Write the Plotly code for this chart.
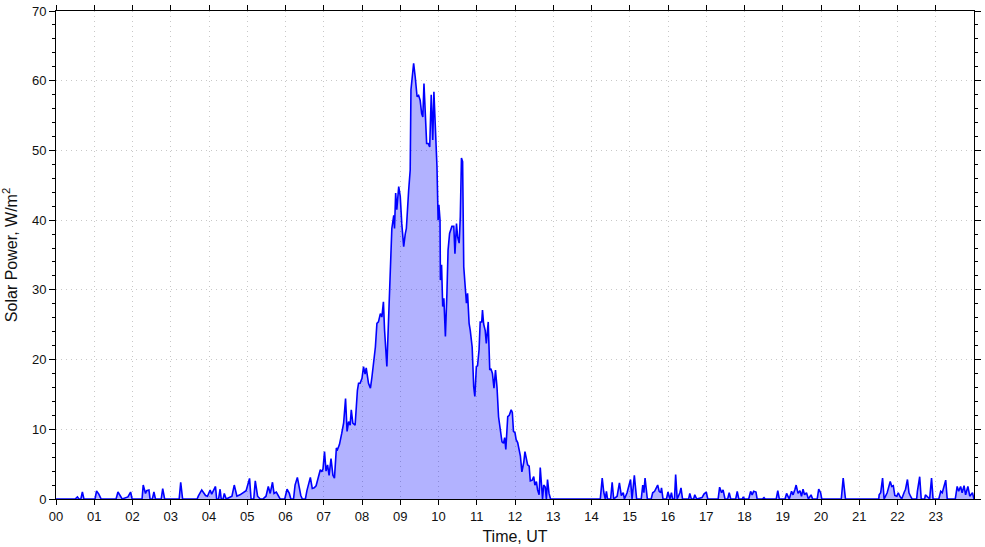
import plotly.graph_objects as go

# Time in hours (UT) and solar power (W/m^2)
hours = [
    0.00, 0.50, 0.56, 0.60, 0.65, 0.69, 0.73, 1.02, 1.06, 1.12, 1.18,
    1.57, 1.62, 1.69, 1.73, 1.88, 1.95, 1.99,
    2.25, 2.28, 2.34, 2.37, 2.43, 2.46, 2.52, 2.56, 2.60, 2.75, 2.79, 2.84,
    3.22, 3.26, 3.31, 3.69, 3.72, 3.81, 3.85, 3.91, 3.96, 4.03, 4.07, 4.17, 4.20,
    4.25, 4.29, 4.32, 4.37, 4.40, 4.45,
    4.60, 4.66, 4.73, 4.81, 4.86, 4.92, 4.97, 5.06, 5.10,
    5.17, 5.21, 5.27, 5.34, 5.41, 5.49, 5.55, 5.60, 5.66, 5.70, 5.76, 5.80, 5.86,
    5.98, 6.04, 6.10, 6.14, 6.21, 6.25, 6.31, 6.37, 6.40, 6.44, 6.52, 6.56, 6.61,
    6.65, 6.70, 6.75, 6.80, 6.86, 6.91, 6.95, 6.98, 7.02, 7.06, 7.10, 7.14, 7.19,
    7.24, 7.28, 7.33, 7.36, 7.41, 7.47, 7.52, 7.57, 7.61, 7.65, 7.69, 7.72, 7.76,
    7.82, 7.85, 7.88, 7.91, 7.95, 8.00, 8.04, 8.08, 8.11, 8.17, 8.22, 8.26, 8.30,
    8.35, 8.39, 8.43, 8.48, 8.52, 8.56, 8.59, 8.65, 8.69, 8.74, 8.78, 8.83, 8.85,
    8.88, 8.91, 8.96, 9.00, 9.04, 9.09, 9.13, 9.16, 9.22, 9.26, 9.28, 9.31, 9.35,
    9.39, 9.44, 9.48, 9.52, 9.56, 9.59, 9.62, 9.65, 9.69, 9.73, 9.77, 9.81, 9.85,
    9.88, 9.92, 9.96, 9.99, 10.01, 10.04, 10.05, 10.08, 10.11, 10.14, 10.18, 10.22,
    10.25, 10.29, 10.31, 10.35, 10.40, 10.43, 10.47, 10.50, 10.54, 10.57, 10.60,
    10.63, 10.66, 10.70, 10.73, 10.76, 10.80, 10.83, 10.88, 10.92, 10.95, 10.99,
    11.02, 11.06, 11.09, 11.13, 11.15, 11.18, 11.22, 11.25, 11.30, 11.34, 11.37,
    11.41, 11.45, 11.49, 11.53, 11.57, 11.62, 11.66, 11.70, 11.73, 11.76, 11.81,
    11.85, 11.90, 11.93, 11.96, 12.00, 12.03, 12.07, 12.11, 12.14, 12.18, 12.23,
    12.26, 12.30, 12.33, 12.37, 12.40, 12.45, 12.49, 12.52, 12.56, 12.59, 12.63,
    12.66, 12.70, 12.72, 12.75, 12.79, 12.82, 12.85, 12.89, 12.93,
    14.23, 14.28, 14.32, 14.35, 14.36, 14.39, 14.42, 14.50, 14.54, 14.58,
    14.67, 14.73, 14.78, 14.83, 14.86, 14.93, 14.98, 15.02, 15.06, 15.12, 15.18,
    15.30, 15.34, 15.37, 15.40, 15.46, 15.56, 15.60, 15.65, 15.69, 15.73, 15.77,
    15.81, 15.83, 15.87, 15.96, 16.00, 16.05, 16.09, 16.12, 16.17, 16.20, 16.24,
    16.31, 16.34, 16.38, 16.54, 16.57, 16.61, 16.67, 16.70, 16.75,
    16.89, 16.94, 17.00, 17.04, 17.31, 17.35, 17.40, 17.44, 17.49,
    17.56, 17.60, 17.64, 17.77, 17.81, 17.85, 17.94, 17.97, 18.00,
    18.11, 18.16, 18.20, 18.24, 18.30, 18.33, 18.47, 18.51, 18.54,
    18.83, 18.87, 18.91, 19.06, 19.10, 19.17, 19.23, 19.27, 19.32, 19.35, 19.40,
    19.45, 19.49, 19.53, 19.57, 19.62, 19.67, 19.71, 19.74, 19.78,
    19.90, 19.94, 19.99, 20.02, 20.53, 20.58, 20.64,
    21.51, 21.52, 21.56, 21.61, 21.65, 21.73, 21.81, 21.85, 21.89, 21.93, 21.98,
    22.02, 22.06, 22.11, 22.17, 22.21, 22.26, 22.30, 22.34, 22.38,
    22.50, 22.52, 22.58, 22.62, 22.71, 22.73, 22.77, 22.82, 22.84, 22.89, 22.93,
    23.08, 23.13, 23.17, 23.26, 23.30, 23.51, 23.56, 23.60, 23.65, 23.69, 23.74,
    23.78, 23.84, 23.89, 23.96, 23.99, 24.00,
]

power = [
    0, 0, 0.3, 0, 0, 1.0, 0, 0, 1.15, 0.7, 0,
    0, 1.0, 0.4, 0, 0.3, 1.0, 0,
    0, 2.0, 0.8, 1.2, 1.3, 0, 0, 1.0, 0, 0, 1.5, 0,
    0, 2.4, 0, 0, 0.4, 1.3, 0.9, 0.5, 0.4, 1.3, 0.7, 1.8, 0,
    0, 1.4, 0, 0, 0.8, 0,
    0.4, 2.0, 0.4, 0.6, 0.8, 1.0, 1.2, 2.95, 0,
    0, 2.6, 0.4, 0, 0, 0.4, 1.8, 0.8, 2.4, 0.8, 1.0, 0.5, 0,
    0, 1.4, 0.8, 0, 0, 2.0, 3.1, 1.2, 0.5, 0, 0, 1.2, 2.1,
    3.1, 1.5, 1.6, 1.9, 3.4, 4.2, 3.9, 4.3, 6.8, 4.0, 4.9, 3.4, 5.8,
    3.4, 3.0, 7.3, 7.1, 7.8, 9.4, 10.9, 14.4, 9.7, 11.1, 10.6, 12.8, 10.9,
    10.6, 13.7, 15.6, 16.6, 16.6, 17.3, 19.0, 17.9, 18.8, 16.6, 15.9, 17.5, 19.5,
    21.8, 25.2, 25.4, 26.6, 26.1, 28.3, 24.2, 19.0, 24.8, 32.9, 38.8, 40.7, 38.8,
    43.9, 41.5, 44.8, 43.4, 39.5, 36.2, 38.0, 38.8, 44.3, 47.2, 58.7, 60.1, 62.5,
    60.6, 57.7, 57.9, 57.2, 55.3, 54.8, 59.6, 55.8, 51.0, 51.0, 50.5, 58.0, 51.5,
    58.4, 53.9, 47.7, 40.0, 42.2, 40.0, 31.4, 33.6, 27.6, 28.8, 23.3, 29.5,
    35.7, 38.1, 38.6, 39.1, 39.1, 35.2, 39.5, 37.6, 36.7, 40.5, 48.9,
    48.4, 33.3, 30.5, 28.1, 29.5, 25.2, 24.2, 21.8, 16.1, 14.7, 19.0,
    19.1, 21.4, 25.4, 25.4, 27.1, 25.1, 24.2, 22.3, 25.4, 18.5, 18.7,
    18.0, 15.9, 18.5, 16.0, 11.8, 9.5, 8.2, 8.0, 8.8, 7.1, 11.8,
    12.0, 12.8, 12.4, 9.7, 9.5, 8.5, 8.1, 6.6, 6.2, 3.9, 5.3,
    6.8, 5.6, 4.9, 4.7, 2.6, 2.7, 3.2, 2.0, 2.5, 1.3, 0.6,
    4.5, 1.3, 0, 2.0, 1.7, 0, 2.8, 0.8, 0,
    0, 3.0, 1.0, 0, 0, 1.1, 0, 0, 2.4, 0,
    0.4, 2.3, 0.5, 0.9, 0, 0.9, 2.0, 2.8, 0, 3.4, 0,
    0, 2.0, 0.9, 3.0, 0, 0, 0.9, 1.1, 1.6, 2.0, 1.1,
    0.9, 1.6, 0, 0, 1.0, 0, 0.9, 0, 0, 3.5, 0,
    0.9, 1.6, 0, 0, 0.8, 0, 0, 0.6, 0,
    0.2, 0.7, 1.0, 0, 0, 1.7, 0.9, 1.3, 0,
    0, 0.9, 0, 0, 1.1, 0, 0, 0.3, 0,
    0, 1.1, 0.6, 1.1, 1.0, 0, 0, 0.2, 0,
    0, 1.2, 0, 0, 0.8, 0, 1.1, 0.6, 1.4, 2.0, 0.8,
    1.2, 0.4, 1.4, 0.6, 0.9, 0, 0.4, 0.6, 0,
    0, 1.4, 0.9, 0, 0, 3.0, 0,
    0, 0.6, 0.9, 3.0, 0, 0.9, 2.5, 1.8, 1.9, 0.5, 0.4,
    0.9, 0.4, 0, 0.9, 1.4, 2.8, 0.9, 0.4, 0,
    0, 1.1, 3.2, 0, 0, 0.6, 0.4, 0, 0, 3.0, 0,
    0, 1.1, 0.9, 2.7, 0, 0, 1.8, 1.1, 1.8, 0.9, 1.9,
    0.6, 1.8, 0.4, 0.9, 0, 0,
]

x_tick_vals = list(range(24))
x_tick_text = [f"{h:02d}" for h in x_tick_vals]

font = dict(family="Liberation Sans, Arial, sans-serif", size=13, color="#111111")

fig = go.Figure()
fig.add_trace(go.Scatter(
    x=hours, y=power, mode="lines",
    line=dict(color="#0000ff", width=1.6),
    fill="tozeroy", fillcolor="rgba(0,0,255,0.3)",
    hoverinfo="x+y", showlegend=False,
))

fig.update_layout(
    width=985, height=547,
    margin=dict(l=56, r=11, t=11, b=48),
    paper_bgcolor="white", plot_bgcolor="white",
    font=font,
    xaxis=dict(
        range=[0, 24], tickvals=x_tick_vals, ticktext=x_tick_text,
        showline=True, linecolor="black", linewidth=1, mirror="ticks",
        ticks="outside", ticklen=5, tickcolor="black",
        showgrid=True, gridcolor="#c8c8c8", griddash="1px,4px", gridwidth=1,
        zeroline=False, automargin=False,
        title=dict(text="Time, UT", standoff=8),
    ),
    yaxis=dict(
        range=[0, 70], dtick=10,
        showline=True, linecolor="black", linewidth=1, mirror="ticks",
        ticks="outside", ticklen=6, tickcolor="black",
        minor=dict(dtick=2, ticks="outside", ticklen=3, tickcolor="black", showgrid=False),
        showgrid=True, gridcolor="#c8c8c8", griddash="1px,4px", gridwidth=1,
        zeroline=False, automargin=False,
        title=dict(text="Solar Power, W/m<sup>2</sup>", standoff=10),
    ),
)

fig.write_html(
    "out.html",
    config={"displayModeBar": False},
    post_script="document.body.style.margin='0';document.body.style.overflow='hidden';",
)
